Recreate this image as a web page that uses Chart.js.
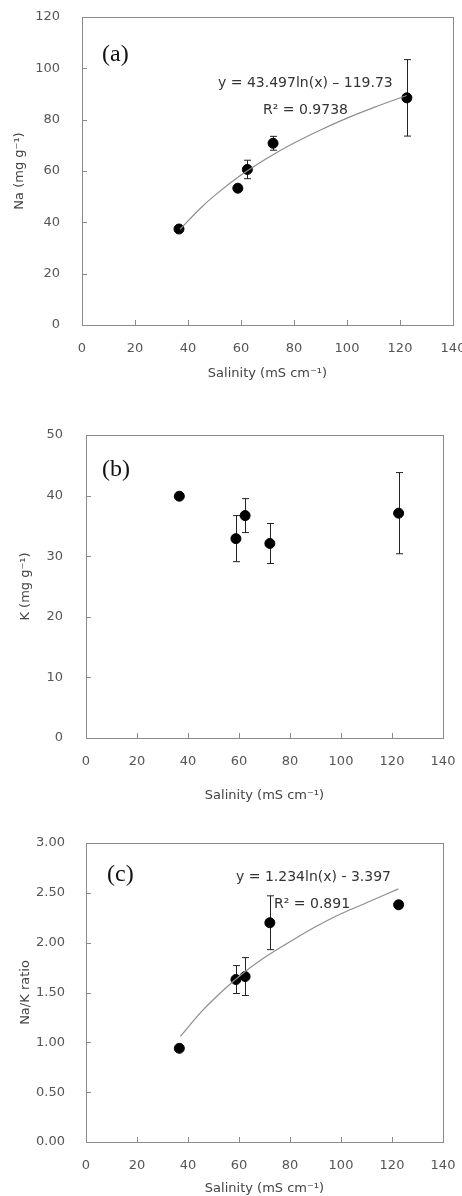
<!DOCTYPE html>
<html lang="en">
<head>
  <meta charset="UTF-8">
  <title>Na, K and Na/K vs salinity</title>
  <script src="https://cdn.jsdelivr.net/npm/chart.js"></script>
  <style>
    body { margin: 0; background: #fff; }
    .panel { position: absolute; left: 0; }
  </style>
</head>
<body>
  <!-- three stacked panels -->
  <div class="panel" style="top:0px;width:462px;height:390px;"><canvas id="chartA"></canvas></div>
  <div class="panel" style="top:390px;width:462px;height:420px;"><canvas id="chartB"></canvas></div>
  <div class="panel" style="top:810px;width:462px;height:386px;"><canvas id="chartC"></canvas></div>

  <script>
    // data
    const salinity = [36.6, 58.8, 62.4, 72.1, 122.6];
    const naMean = [37.4, 53.3, 60.6, 70.8, 88.5];
    const naErr = [0.8, 1.0, 3.6, 2.7, 14.9];
    const kMean = [39.9, 32.9, 36.7, 32.1, 37.1];
    const kErr = [0.5, 3.8, 2.8, 3.3, 6.7];
    const ratioMean = [0.94, 1.63, 1.66, 2.20, 2.38];
    const ratioErr = [0.02, 0.14, 0.19, 0.27, 0.03];

    // fitted curves as drawn (log trend lines)
    const trendX = [37, 45, 50, 60, 70, 80, 90, 100, 110, 122.5];
    const naTrend = [37.3, 45.8, 50.4, 58.4, 65.1, 70.9, 76.0, 80.6, 84.7, 89.4];
    const ratioTrend = [1.06, 1.30, 1.43, 1.66, 1.85, 2.01, 2.16, 2.29, 2.40, 2.54];

    const xTitle = 'Salinity (mS cm\u207B\u00B9)';
    const fam = '"DejaVu Sans", sans-serif';

    function toPoints(xs, ys) {
      return xs.map((v, i) => ({ x: v, y: ys[i] }));
    }

    function makePanel(id, p) {
      const frame = {
        id: 'frame',
        beforeDatasetsDraw(chart) {
          const { ctx, chartArea: a, scales: { x, y } } = chart;
          ctx.save();
          ctx.strokeStyle = '#8a8a8a';
          ctx.lineWidth = 1;
          ctx.strokeRect(a.left + 0.5, a.top + 0.5, a.width, a.height);
          ctx.beginPath();
          x.ticks.forEach(t => {
            const px = Math.round(x.getPixelForValue(t.value)) + 0.5;
            ctx.moveTo(px, a.bottom); ctx.lineTo(px, a.bottom - 5);
          });
          y.ticks.forEach(t => {
            const py = Math.round(y.getPixelForValue(t.value)) + 0.5;
            ctx.moveTo(a.left, py); ctx.lineTo(a.left + 5, py);
          });
          ctx.stroke();

          // error bars
          ctx.strokeStyle = '#222';
          ctx.beginPath();
          salinity.forEach((sx, i) => {
            const px = Math.round(x.getPixelForValue(sx)) + 0.5;
            const top = y.getPixelForValue(p.mean[i] + p.err[i]);
            const bot = y.getPixelForValue(p.mean[i] - p.err[i]);
            ctx.moveTo(px, top); ctx.lineTo(px, bot);
            ctx.moveTo(px - 3.5, top); ctx.lineTo(px + 3.5, top);
            ctx.moveTo(px - 3.5, bot); ctx.lineTo(px + 3.5, bot);
          });
          ctx.stroke();
          ctx.restore();
        },
        afterDraw(chart) {
          const ctx = chart.ctx;
          ctx.save();
          ctx.textBaseline = 'middle';
          ctx.textAlign = 'left';
          ctx.fillStyle = '#111';
          ctx.font = '24px "Liberation Serif", serif';
          ctx.fillText(p.tag[0], p.tag[1], p.tag[2]);
          ctx.fillStyle = '#333';
          ctx.font = '14px ' + fam;
          (p.notes || []).forEach(n => ctx.fillText(n[0], n[1], n[2]));
          ctx.restore();
        }
      };

      const datasets = [{
        type: 'scatter',
        data: toPoints(salinity, p.mean),
        backgroundColor: '#000',
        borderColor: '#000',
        pointRadius: 5,
        pointHoverRadius: 5
      }];
      if (p.trend) {
        datasets.unshift({
          type: 'line',
          data: toPoints(trendX, p.trend),
          borderColor: '#8e8e8e',
          borderWidth: 1.2,
          pointRadius: 0,
          fill: false,
          cubicInterpolationMode: 'monotone'
        });
      }

      new Chart(document.getElementById(id), {
        type: 'scatter',
        data: { datasets: datasets },
        plugins: [frame],
        options: {
          responsive: true,
          maintainAspectRatio: false,
          animation: false,
          events: [],
          layout: { padding: { top: p.area.top, right: 462 - p.area.right, bottom: p.padBottom, left: 0 } },
          plugins: { legend: { display: false }, tooltip: { enabled: false } },
          scales: {
            x: {
              type: 'linear', min: 0, max: 140,
              grid: { display: false, drawTicks: false },
              border: { display: false },
              ticks: { stepSize: 20, padding: 16, color: '#555', font: { family: fam, size: 13 } },
              title: { display: true, text: xTitle, color: '#444', padding: 0, font: { family: fam, size: 13 } },
              afterFit(s) {
                s.height = p.height - p.padBottom - p.area.bottom;
                s.paddingLeft = 0; s.paddingRight = 0;
              }
            },
            y: {
              type: 'linear', min: 0, max: p.yMax,
              grid: { display: false, drawTicks: false },
              border: { display: false },
              ticks: {
                stepSize: p.yStep, padding: p.yPad, color: '#555',
                font: { family: fam, size: 13 },
                callback: v => v.toFixed(p.dec)
              },
              title: { display: true, text: p.yTitle, color: '#444', padding: { top: p.yTitlePad, bottom: 0 }, font: { family: fam, size: 13 } },
              afterFit(s) {
                s.width = p.area.left;
                s.paddingTop = 0; s.paddingBottom = 0;
              }
            }
          }
        }
      });
    }

    makePanel('chartA', {
      height: 390, padBottom: 9,
      area: { left: 82, top: 17, right: 453, bottom: 325 },
      mean: naMean, err: naErr, trend: naTrend,
      yMax: 120, yStep: 20, dec: 0, yPad: 22, yTitlePad: 12,
      yTitle: 'Na (mg g\u207B\u00B9)',
      tag: ['(a)', 102, 55],
      notes: [['y = 43.497ln(x) \u2013 119.73', 218, 83], ['R\u00B2 = 0.9738', 263, 110]]
    });

    makePanel('chartB', {
      height: 420, padBottom: 7,
      area: { left: 86, top: 45, right: 443, bottom: 348 },
      mean: kMean, err: kErr, trend: null,
      yMax: 50, yStep: 10, dec: 0, yPad: 23, yTitlePad: 18,
      yTitle: 'K (mg g\u207B\u00B9)',
      tag: ['(b)', 102, 80]
    });

    makePanel('chartC', {
      height: 386, padBottom: 0,
      area: { left: 86, top: 33, right: 443, bottom: 332 },
      mean: ratioMean, err: ratioErr, trend: ratioTrend,
      yMax: 3, yStep: 0.5, dec: 2, yPad: 21, yTitlePad: 18,
      yTitle: 'Na/K ratio',
      tag: ['(c)', 107, 65],
      notes: [['y = 1.234ln(x) - 3.397', 236, 67], ['R\u00B2 = 0.891', 274, 94]]
    });
  </script>
</body>
</html>
